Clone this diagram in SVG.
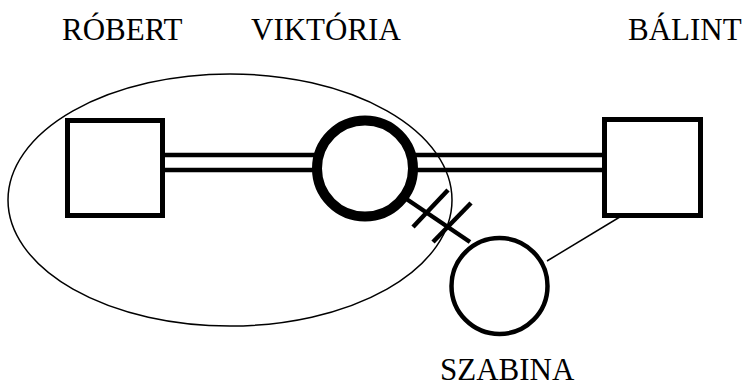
<svg xmlns="http://www.w3.org/2000/svg" width="747" height="387" viewBox="0 0 747 387">
<style>
.lbl{font-family:"Liberation Serif","Times New Roman",serif;font-size:31px;fill:#000}
.sq{fill:#fff;stroke:#000;stroke-width:5}
.cn{stroke:#000;fill:none}
</style>
<rect width="747" height="387" fill="#fff"/>
<g id="connectors">
<line class="cn" x1="165" y1="155" x2="603" y2="155" stroke-width="4.5"/>
<line class="cn" x1="165" y1="170" x2="603" y2="170" stroke-width="4.5"/>
<line class="cn" x1="405" y1="198" x2="470" y2="242" stroke-width="4.5"/>
<line class="cn" x1="413" y1="227" x2="448" y2="190" stroke-width="4.5"/>
<line class="cn" x1="433" y1="242" x2="471" y2="203" stroke-width="4.5"/>
<line class="cn" x1="547" y1="261" x2="643" y2="203" stroke-width="1.5"/>
</g>
<g id="robert">
<rect class="sq" x="67.5" y="120.5" width="95" height="95"/>
<text class="lbl" x="62" y="40">RÓBERT</text>
</g>
<g id="viktoria">
<circle cx="365" cy="168.5" r="48" fill="#fff" stroke="#000" stroke-width="10"/>
<text class="lbl" x="251" y="40">VIKTÓRIA</text>
</g>
<g id="balint">
<rect class="sq" x="604.5" y="119.5" width="96" height="96"/>
<text class="lbl" x="628" y="40">BÁLINT</text>
</g>
<g id="szabina">
<circle cx="499.5" cy="286" r="48" fill="#fff" stroke="#000" stroke-width="4.5"/>
<text class="lbl" x="440" y="380">SZABINA</text>
</g>
<g id="group">
<ellipse cx="230" cy="200" rx="222" ry="126" fill="none" stroke="#000" stroke-width="1.5"/>
</g>
</svg>
